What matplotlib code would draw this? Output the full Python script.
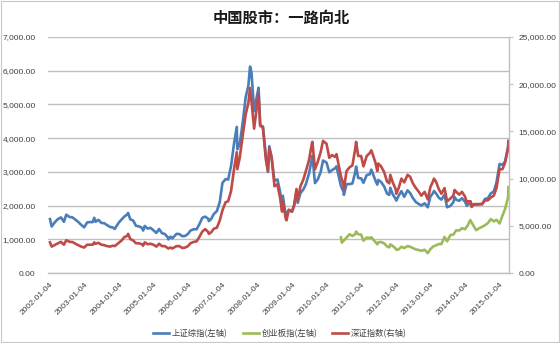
import matplotlib
matplotlib.use("Agg")
import matplotlib.pyplot as plt
import matplotlib.dates as mdates
import numpy as np
import pandas as pd

plt.rcParams['font.family'] = ['Liberation Sans', 'Noto Sans CJK SC', 'DejaVu Sans']

# ---------------- data ----------------
main_dates = [
    '2002-01-04', '2002-01-22', '2002-02-28', '2002-03-29', '2002-04-30', '2002-05-31', '2002-06-25',
    '2002-07-31', '2002-08-30', '2002-09-30', '2002-10-31', '2002-11-29', '2002-12-31',
    '2003-01-31', '2003-02-28', '2003-03-31', '2003-04-16', '2003-04-30', '2003-05-30', '2003-06-30',
    '2003-07-31', '2003-08-29', '2003-09-30', '2003-10-31', '2003-11-18', '2003-12-31',
    '2004-01-30', '2004-02-27', '2004-03-31', '2004-04-07', '2004-04-30', '2004-05-31', '2004-06-30',
    '2004-07-30', '2004-08-31', '2004-09-13', '2004-09-30', '2004-10-29', '2004-11-30', '2004-12-31',
    '2005-01-31', '2005-02-28', '2005-03-31', '2005-04-29', '2005-05-31', '2005-06-06', '2005-06-30',
    '2005-07-18', '2005-08-31', '2005-09-30', '2005-10-31', '2005-11-30', '2005-12-30',
    '2006-01-25', '2006-02-28', '2006-03-31', '2006-04-28', '2006-05-31', '2006-06-30', '2006-07-31',
    '2006-08-07', '2006-08-31', '2006-09-29', '2006-10-31', '2006-11-30', '2006-12-29',
    '2007-01-31', '2007-02-27', '2007-03-30', '2007-04-30', '2007-05-29', '2007-06-04', '2007-06-29',
    '2007-07-31', '2007-08-31', '2007-09-28', '2007-10-16', '2007-10-31', '2007-11-28', '2007-12-28',
    '2008-01-14', '2008-01-31', '2008-02-29', '2008-03-31', '2008-04-22', '2008-05-06', '2008-05-30',
    '2008-06-30', '2008-07-31', '2008-08-29', '2008-09-18', '2008-09-26', '2008-10-28', '2008-11-04',
    '2008-11-28', '2008-12-31',
    '2009-01-23', '2009-02-17', '2009-03-02', '2009-03-31', '2009-04-30', '2009-05-27', '2009-06-30',
    '2009-07-31', '2009-08-04', '2009-08-31', '2009-09-30', '2009-10-30', '2009-11-24', '2009-12-31',
    '2010-01-29', '2010-02-26', '2010-03-31', '2010-04-15', '2010-05-31', '2010-06-30', '2010-07-02',
    '2010-07-30', '2010-08-31', '2010-09-30', '2010-10-29', '2010-11-08', '2010-11-30', '2010-12-31',
    '2011-01-25', '2011-02-28', '2011-03-31', '2011-04-18', '2011-05-31', '2011-06-20', '2011-06-30',
    '2011-07-29', '2011-08-31', '2011-09-30', '2011-10-24', '2011-11-04', '2011-11-30', '2011-12-30',
    '2012-01-06', '2012-01-31', '2012-02-29', '2012-03-30', '2012-05-04', '2012-05-31', '2012-06-29',
    '2012-07-31', '2012-08-31', '2012-09-26', '2012-10-31', '2012-12-03', '2012-12-31',
    '2013-01-31', '2013-02-06', '2013-02-28', '2013-03-29', '2013-04-26', '2013-05-29', '2013-06-25',
    '2013-07-31', '2013-08-30', '2013-09-12', '2013-09-30', '2013-10-31', '2013-11-29', '2013-12-31',
    '2014-01-20', '2014-01-30', '2014-02-28', '2014-03-12', '2014-03-31', '2014-04-30', '2014-05-30',
    '2014-06-30', '2014-07-31', '2014-08-29', '2014-09-30', '2014-10-31', '2014-11-28', '2014-12-31',
    '2015-01-30', '2015-02-27', '2015-03-31', '2015-04-03',
]

sh_composite = [
    1600, 1380, 1520, 1600, 1650, 1520, 1730, 1660, 1650, 1580, 1510, 1430, 1357,
    1500, 1512, 1510, 1640, 1520, 1577, 1487, 1477, 1421, 1367, 1348, 1307, 1497,
    1590, 1675, 1741, 1783, 1595, 1555, 1399, 1386, 1342, 1260, 1396, 1320, 1340, 1266,
    1191, 1306, 1181, 1159, 1060, 998, 1080, 1030, 1162, 1155, 1092, 1099, 1161,
    1258, 1299, 1298, 1440, 1641, 1672, 1612, 1541, 1601, 1752, 1837, 2099, 2675,
    2786, 2771, 3183, 3841, 4335, 3670, 3820, 4471, 5218, 5552, 6124, 5954, 4803, 5261,
    5497, 4383, 4348, 3472, 3000, 3761, 3433, 2736, 2775, 2397, 1895, 2293, 1664, 1750, 1871, 1821,
    1990, 2389, 2081, 2373, 2477, 2632, 2959, 3412, 3478, 2667, 2779, 2995, 3338, 3277,
    2989, 3051, 3109, 3166, 2592, 2398, 2319, 2637, 2638, 2656, 2979, 3159, 2820, 2808,
    2677, 2905, 2928, 3067, 2743, 2621, 2762, 2701, 2568, 2359, 2317, 2528, 2333, 2199,
    2148, 2292, 2428, 2262, 2452, 2372, 2225, 2103, 2047, 2004, 2068, 1949, 2269,
    2385, 2434, 2365, 2236, 2177, 2324, 1950, 1993, 2098, 2255, 2174, 2141, 2220, 2116,
    1992, 2033, 2056, 1974, 2033, 2026, 2039, 2048, 2201, 2217, 2364, 2420, 2683, 3235,
    3210, 3310, 3748, 3863,
]

sz_component = [
    3250, 2800, 3000, 3150, 3300, 3000, 3480, 3300, 3280, 3100, 2950, 2800, 2700,
    3000, 3000, 3000, 3250, 3100, 3200, 3000, 2950, 2850, 2800, 2900, 2850, 3200,
    3450, 3800, 3950, 4150, 3600, 3450, 3150, 3150, 3050, 2900, 3250, 3050, 3100, 3000,
    2800, 3100, 2850, 2850, 2650, 2600, 2700, 2600, 2850, 2850, 2650, 2700, 2850,
    3150, 3300, 3350, 3800, 4400, 4650, 4350, 4150, 4300, 4700, 4800, 5550, 6650,
    7500, 7600, 8700, 11000, 12800, 11000, 12200, 14600, 16800, 18000, 19600, 18200, 15300, 17700,
    19000, 15600, 15400, 12000, 10800, 13200, 12300, 9200, 9400, 7900, 6500, 7600, 5700, 5577, 6700, 6500,
    7200, 8900, 7700, 9200, 9900, 10800, 12000, 13800, 13900, 11000, 11800, 12800, 14000, 13700,
    12200, 12500, 12300, 12600, 10300, 9300, 8900, 10800, 11200, 11400, 13100, 13900, 12400, 12400,
    11300, 12400, 12700, 13000, 11700, 10800, 11600, 11300, 10700, 9700, 9500, 10400, 9600, 8900,
    8400, 9000, 10000, 9600, 10400, 10200, 9500, 9000, 8600, 8200, 8600, 7800, 9100,
    9800, 10000, 9700, 8900, 8400, 9000, 7600, 7900, 8200, 8800, 8600, 8300, 8600, 8100,
    7500, 7600, 7600, 7000, 7300, 7300, 7300, 7300, 7700, 7700, 8000, 8200, 9000, 11000,
    11000, 11700, 13200, 14000,
]

chinext_dates = [
    '2010-06-01', '2010-06-10', '2010-06-30', '2010-07-30', '2010-08-31', '2010-09-30', '2010-10-29',
    '2010-11-08', '2010-11-30', '2010-12-31',
    '2011-01-25', '2011-02-28', '2011-03-31', '2011-04-18', '2011-05-31', '2011-06-20', '2011-06-30',
    '2011-07-29', '2011-08-31', '2011-09-30', '2011-10-24', '2011-11-04', '2011-11-30', '2011-12-30',
    '2012-01-06', '2012-01-31', '2012-02-29', '2012-03-30', '2012-05-04', '2012-05-31', '2012-06-29',
    '2012-07-31', '2012-08-31', '2012-09-26', '2012-10-31', '2012-12-03', '2012-12-31',
    '2013-01-31', '2013-02-28', '2013-03-29', '2013-04-26', '2013-05-29', '2013-06-25', '2013-07-31',
    '2013-08-30', '2013-09-30', '2013-10-31', '2013-11-29', '2013-12-31',
    '2014-01-30', '2014-02-25', '2014-03-31', '2014-04-28', '2014-05-30', '2014-06-30', '2014-07-31',
    '2014-08-29', '2014-09-30', '2014-10-31', '2014-11-28', '2014-12-31',
    '2015-01-30', '2015-02-27', '2015-03-31', '2015-04-03',
]
chinext = [
    1060, 900, 960, 1050, 1150, 1100, 1150, 1230, 1150, 1140,
    960, 1050, 1040, 1060, 920, 850, 910, 920, 880, 790, 760, 850, 800, 730,
    690, 700, 780, 740, 800, 780, 740, 700, 680, 660, 690, 590, 710,
    790, 820, 860, 860, 1070, 940, 1130, 1140, 1270, 1260, 1330, 1300,
    1420, 1570, 1400, 1270, 1330, 1370, 1420, 1480, 1600, 1530, 1580, 1470,
    1700, 1900, 2250, 2550,
]

tick_labels = ['%d-01-04' % y for y in range(2002, 2016)]
left_ticks = [0, 1000, 2000, 3000, 4000, 5000, 6000, 7000]
right_ticks = [0, 5000, 10000, 15000, 20000, 25000]
series_names = ['上证综指(左轴)', '创业板指(左轴)', '深证指数(右轴)']
title = '中国股市：一路向北'

# ---------------- plot ----------------
BLUE, GREEN, RED = '#4A7EBB', '#9BBB59', '#BE4B48'
GRID = '#BFBFBF'
TXT = '#404040'

fig = plt.figure(figsize=(5.6, 3.43), dpi=100)
ax = fig.add_axes([0.0857, 0.204, 0.823, 0.688])
ax2 = ax.twinx()

md = pd.to_datetime(main_dates)
cd = pd.to_datetime(chinext_dates)

l1, = ax.plot(md, sh_composite, color=BLUE, lw=1.9, solid_joinstyle='round')
l2, = ax.plot(cd, chinext, color=GREEN, lw=1.9, solid_joinstyle='round')
l3, = ax2.plot(md, sz_component, color=RED, lw=1.9, solid_joinstyle='round')

ax.set_ylim(0, 7000)
ax2.set_ylim(0, 25000)
ax.set_xlim(pd.Timestamp('2001-12-14'), pd.Timestamp('2015-04-08'))

ax.set_yticks(left_ticks)
ax.set_yticklabels(['{:,.2f}'.format(v) for v in left_ticks])
ax2.set_yticks(right_ticks)
ax2.set_yticklabels(['{:,.2f}'.format(v) for v in right_ticks])

ax.yaxis.grid(True, color=GRID, lw=1.0)
ax.set_axisbelow(True)
ax.tick_params(axis='y', length=0, labelsize=6, labelcolor=TXT, pad=9)
ax2.tick_params(axis='y', length=3, width=0.8, color=GRID, labelsize=6, labelcolor=TXT, pad=4)

xt = pd.to_datetime(tick_labels)
ax.set_xticks(xt)
ax.set_xticklabels(tick_labels, rotation=45, ha='right', rotation_mode='anchor')
ax.tick_params(axis='x', length=0, labelsize=6, labelcolor=TXT, pad=6)

for a in (ax, ax2):
    for s in ('top', 'left', 'right', 'bottom'):
        a.spines[s].set_visible(False)
ax2.spines['right'].set_visible(True)
ax2.spines['right'].set_color(GRID)
ax2.spines['right'].set_linewidth(1.0)
ax.spines['bottom'].set_visible(True)
ax.spines['bottom'].set_color(GRID)
ax.spines['bottom'].set_linewidth(1.0)

fig.text(0.502, 0.947, title, ha='center', va='center', fontsize=11, fontweight='bold',
         family=['Noto Sans CJK SC', 'DejaVu Sans'], color='#1a1a1a')

leg = fig.legend([l1, l2, l3], series_names, loc='center', bbox_to_anchor=(0.5, 0.028),
                 ncol=3, frameon=False, handlelength=1.9, handletextpad=0.35,
                 columnspacing=1.8, prop={'family': ['Noto Sans CJK SC', 'DejaVu Sans'], 'size': 6})
for t in leg.get_texts():
    t.set_color(TXT)

# outer border
fig.patches.append(plt.Rectangle((0.002, 0.003), 0.996, 0.994, transform=fig.transFigure,
                                 fill=False, edgecolor='#C8C8C8', lw=0.8))

fig.savefig('out.png', dpi=100)
